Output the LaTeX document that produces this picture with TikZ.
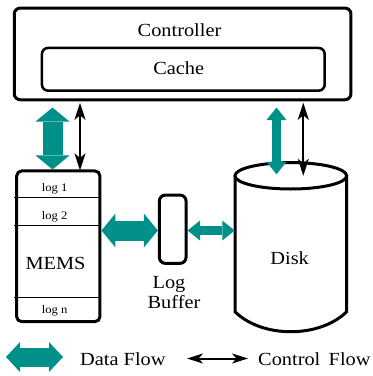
\documentclass[tikz,border=0pt]{standalone}
\usepackage{fontspec}
\setmainfont[FakeStretch=1.1]{Liberation Serif}
\usetikzlibrary{arrows.meta,calc}
\definecolor{flow}{HTML}{00908A}
\tikzset{
  box/.style={draw=black, line width=3pt, rounded corners=6pt, inner sep=0pt, fill=white},
  thinbox/.style={draw=black, line width=2.5pt, rounded corners=6pt, inner sep=0pt},
  divider/.style={draw=black, line width=1.3pt},
  lbl/.style={anchor=base, inner sep=0pt, font=\fontsize{18.5}{20}\selectfont},
  small/.style={anchor=base, inner sep=0pt, font=\fontsize{11.5}{13}\selectfont},
  bigflow/.style={draw=flow, line width=20pt,
    {Triangle[length=14pt,width=34pt,line width=0pt]}-{Triangle[length=14pt,width=34pt,line width=0pt]}},
  legflow/.style={draw=flow, line width=19pt,
    {Triangle[length=14pt,width=30pt,line width=0pt]}-{Triangle[length=14pt,width=30pt,line width=0pt]}},
  smallflow/.style={draw=flow, line width=9.5pt,
    {Triangle[length=12.5pt,width=20pt,line width=0pt]}-{Triangle[length=12.5pt,width=20pt,line width=0pt]}},
  ctl/.style={draw=black, line width=2pt,
    {Stealth[length=17pt,width=11pt,inset=4.5pt]}-{Stealth[length=17pt,width=11pt,inset=4.5pt]}},
  legctl/.style={draw=black, line width=2pt,
    {Stealth[length=16pt,width=10pt,inset=4.5pt]}-{Stealth[length=16pt,width=10pt,inset=4.5pt]}}
}
\begin{document}
\begin{tikzpicture}[x=1pt,y=-1pt]
\useasboundingbox (0,0) rectangle (373,376);
% Controller and cache
\node[box, minimum width=336.7pt, minimum height=91.7pt] (ctrl) at (182.6,53.9) {};
\node[thinbox, minimum width=282.7pt, minimum height=42.7pt] (cache) at (183.3,69.3) {};
\node[lbl] (ctrltxt) at (179.5,36) {Controller};
\node[lbl] (cachetxt) at (178.7,74) {Cache};
% MEMS
\node[box, rounded corners=5pt, minimum width=83.3pt, minimum height=150.7pt] (mems) at (58.3,246.3) {};
\coordinate (d1) at (13.5,197.3);
\coordinate (d2) at (13.5,225.3);
\coordinate (d3) at (13.5,297.3);
\draw[divider] (d1) -- (d1 -| mems.east);
\draw[divider] (d2) -- (d2 -| mems.east);
\draw[divider] (d3) -- (d3 -| mems.east);
\node[small] (log1) at (54.7,191.5) {log 1};
\node[small] (log2) at (54.7,219.3) {log 2};
\node[lbl] (memstxt) at (55.5,269.3) {MEMS};
\node[small] (logn) at (54.7,313) {log n};
% Log buffer
\node[box, minimum width=26.7pt, minimum height=68.3pt] (lb) at (172.7,229.2) {};
\node[lbl] (lbt1) at (169,288) {Log};
\node[lbl] (lbt2) at (174,308) {Buffer};
% Disk
\coordinate (dtop) at (290.8,175.8);
\draw[line width=3pt, fill=white]
  (235,175.8) -- (235,311.7) .. controls (262,338.4) and (319.5,338.4) .. (346.7,311.7) -- (346.7,175.8);
\draw[line width=3pt, fill=white] (dtop) ellipse [x radius=55.85pt, y radius=13.2pt];
\node[inner sep=0pt, minimum width=111.7pt, minimum height=150pt] (disk) at (290.8,250) {};
\node[lbl] (disktxt) at (289.7,264) {Disk};
% Flow connectors
\coordinate (x1) at (52.5,0);
\coordinate (x2) at (80,0);
\coordinate (x3) at (276.5,0);
\coordinate (x4) at (303.3,0);
\coordinate (yl) at (0,230.5);
\draw[bigflow] ([yshift=-6.3pt]x1 |- ctrl.south) -- (x1 |- mems.north);
\draw[ctl] ([yshift=-1.5pt]x2 |- ctrl.south) -- ([yshift=-1pt]x2 |- mems.north);
\draw[bigflow] (yl -| mems.east) -- (yl -| lb.west);
\draw[smallflow] (yl -| lb.east) -- (yl -| disk.west);
\draw[smallflow] ([yshift=-6.3pt]x3 |- ctrl.south) -- ([yshift=1.5pt]x3 |- dtop);
\draw[ctl] ([yshift=-1.5pt]x4 |- ctrl.south) -- (x4 |- dtop);
% Legend
\coordinate (la) at (6,357);
\coordinate (lb2) at (63,357);
\draw[legflow] (la) -- (lb2);
\node[lbl, anchor=base west] (datatxt) at (80,365) {Data Flow};
\coordinate (lc) at (187,358.5);
\coordinate (ld) at (248,358.5);
\draw[legctl] (lc) -- (ld);
\node[lbl, anchor=base west] (ctltxt) at (258,365) {Control\hspace{0.45em}Flow};
\end{tikzpicture}
\end{document}
